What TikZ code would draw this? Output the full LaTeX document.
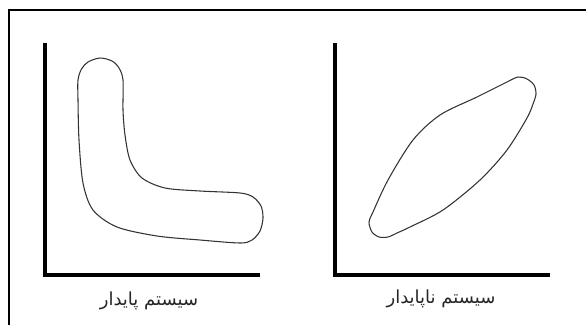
\documentclass[tikz,border=0pt]{standalone}
\usepackage{fontspec}
\newfontfamily\arabicfont[Script=Arabic]{DejaVu Sans}
\TeXXeTstate=1
\usetikzlibrary{positioning}

\begin{document}
\begin{tikzpicture}[x=0.75pt,y=-0.75pt,
    frame/.style={line width=2.2pt,black},
    axis/.style={line width=2.3pt,black},
    curve/.style={line width=0.8pt,black!80},
    caption/.style={inner sep=0pt,font=\arabicfont\fontsize{13.5}{16}\selectfont,text=black!85}]
  \useasboundingbox (0,0) rectangle (586,325);
  % outer frame (only top and left are on the page)
  \draw [frame] (586,10) -- (9,10) -- (9,325);
  % stable system
  \draw [axis] (45,43) -- (45,275) -- (260,275);
  \draw [curve] plot [smooth cycle, tension=0.5] coordinates {
    (100,58) (112,61) (119,68) (123,80) (123,110) (125,135) (130,160)
    (142,178) (165,188) (200,191) (240,193) (253,197) (261,206) (263,218)
    (260,231) (252,240) (240,243) (200,240) (157,236) (117,227) (93,210)
    (83,183) (79,140) (78,100) (78,80) (81.5,69) (88,62)};
  \node [caption] (stable) at (149,301) {\beginR سیستم پایدار\endR};
  % unstable system
  \draw [axis] (335,43) -- (335,275) -- (550,275);
  \draw [curve] plot [smooth cycle, tension=0.5] coordinates {
    (518,77) (527,79) (534,85) (536,94) (533,104) (527,118) (507,150)
    (480,180) (443,210) (410,227) (397,233) (388,237) (379,237) (372,232)
    (369,222) (373,212) (388,180) (413,140) (440,115) (477,97) (505,83)};
  \node [caption] (unstable) at (441,299) {\beginR سیستم ناپایدار\endR};
\end{tikzpicture}
\end{document}
